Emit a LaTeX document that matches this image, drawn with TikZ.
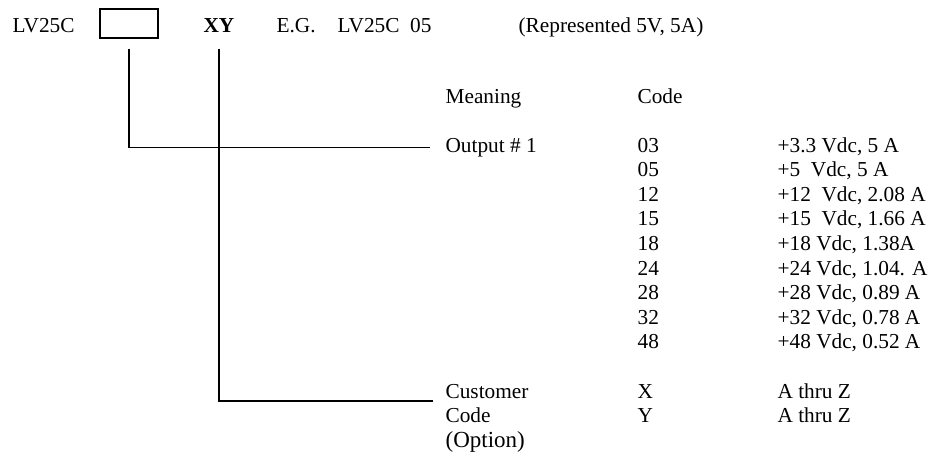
\documentclass[tikz,border=0pt]{standalone}
\usepackage{fontspec}
\setmainfont{Liberation Serif}
\usetikzlibrary{positioning}

\begin{document}
\begin{tikzpicture}[x=1pt,y=-1pt,line width=1.2pt,
  txt/.style={anchor=base west,inner sep=0pt,font=\fontsize{21.3}{25}\selectfont},
  code box/.style={draw,minimum width=58pt,minimum height=29pt,inner sep=0pt}]

  \useasboundingbox (0,0) rectangle (933,458);

  \node[txt] (model) at (12,32) {LV25C};
  \node[code box] (box) at (129,23.5) {};
  \node[txt,font=\fontsize{21.3}{25}\selectfont\bfseries] (xy) at (203,32) {XY};
  \node[txt] (eg) at (276,32) {E.G.};
  \node[txt] (ex) at (337,32) {LV25C\ \ 05};
  \node[txt] (repr) at (518,32) {(Represented 5V, 5A)};

  \node[txt] (meaning) at (445,103) {Meaning};
  \node[txt] (code) at (637,103) {Code};

  \node[txt] (out1) at (445,152) {Output \# 1};
  \node[txt] (c03) at (637,152) {03};     \node[txt] (v03) at (777,152) {+3.3 Vdc, 5 A};
  \node[txt] (c05) at (637,176.6) {05};   \node[txt] (v05) at (777,176.6) {+5\ \ Vdc, 5 A};
  \node[txt] (c12) at (637,201.2) {12};   \node[txt] (v12) at (777,201.2) {+12\ \ Vdc, 2.08 A};
  \node[txt] (c15) at (637,225.8) {15};   \node[txt] (v15) at (777,225.8) {+15\ \ Vdc, 1.66 A};
  \node[txt] (c18) at (637,250.4) {18};   \node[txt] (v18) at (777,250.4) {+18 Vdc, 1.38A};
  \node[txt] (c24) at (637,275) {24};     \node[txt] (v24) at (777,275) {+24 Vdc, 1.04. A};
  \node[txt] (c28) at (637,299.6) {28};   \node[txt] (v28) at (777,299.6) {+28 Vdc, 0.89 A};
  \node[txt] (c32) at (637,324.2) {32};   \node[txt] (v32) at (777,324.2) {+32 Vdc, 0.78 A};
  \node[txt] (c48) at (637,348.8) {48};   \node[txt] (v48) at (777,348.8) {+48 Vdc, 0.52 A};

  \node[txt] (cust) at (445,398) {Customer};
  \node[txt] (custcode) at (445,422.6) {Code};
  \node[txt,font=\fontsize{23}{27}\selectfont] (option) at (445,447) {(Option)};
  \node[txt] (cx) at (637,398) {X};       \node[txt] (vx) at (777,398) {A thru Z};
  \node[txt] (cy) at (637,422.6) {Y};     \node[txt] (vy) at (777,422.6) {A thru Z};

  \draw ([yshift=-10pt]box.south) |- ([xshift=-15pt]out1.west);
  \draw ([yshift=-16pt]xy.south) |- ([xshift=-12pt,yshift=-3pt]cust.base west);
\end{tikzpicture}
\end{document}
